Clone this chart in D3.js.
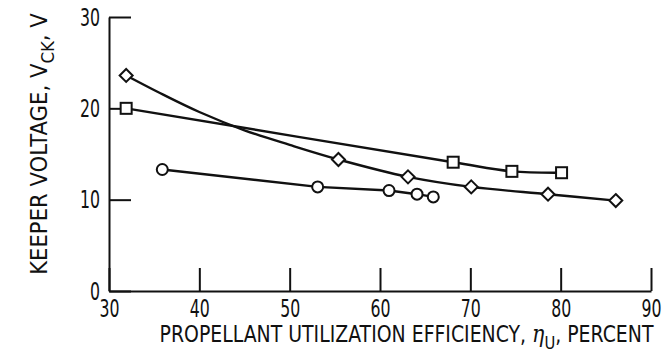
<!DOCTYPE html>
<html lang="en">
<head>
  <meta charset="UTF-8">
  <title>Keeper voltage vs propellant utilization</title>
  <script src="https://d3js.org/d3.v7.min.js"></script>
  <style>
    html, body { margin: 0; padding: 0; background: #fff; }
    svg { display: block; }
    text {
      font-family: "DejaVu Sans", sans-serif;
      fill: #111;
    }
    .axis path, .axis line { stroke: #111; stroke-width: 2px; }
    .axis text { font-size: 25px; }
    .title { font-size: 23px; }
    .curve { fill: none; stroke: #111; stroke-width: 2.4px; }
    .mark { fill: #fff; stroke: #111; stroke-width: 2px; }
  </style>
</head>
<body>
<svg id="chart" width="662" height="364"></svg>
<script>
  // values
  const squareX = [31.9, 68.1, 74.6, 80.1];
  const squareY = [20.0, 14.1, 13.1, 12.95];

  const diamondX = [31.9, 55.4, 63.1, 70.1, 78.6, 86.1];
  const diamondY = [23.6, 14.4, 12.5, 11.4, 10.6, 9.9];
  // faired curve between the first two diamonds, as drawn
  const diamondFairX = [36, 40, 45, 50];
  const diamondFairY = [21.5, 19.6, 17.6, 16.0];

  const circleX = [35.9, 53.1, 61.0, 64.1, 65.9];
  const circleY = [13.3, 11.4, 11.0, 10.6, 10.3];

  const xTicks = [30, 40, 50, 60, 70, 80, 90];
  const yTicks = [0, 10, 20, 30];

  const svg = d3.select("#chart");
  const margin = { top: 17, right: 11, bottom: 73, left: 109 };
  const width = 662 - margin.left - margin.right;
  const height = 364 - margin.top - margin.bottom;
  const g = svg.append("g").attr("transform", `translate(${margin.left},${margin.top})`);

  const x = d3.scaleLinear().domain([30, 90]).range([0, width]);
  const y = d3.scaleLinear().domain([0, 30]).range([height, 0]);

  const zip = (xs, ys) => xs.map((v, i) => [v, ys[i]]);
  const squares = zip(squareX, squareY);
  const diamonds = zip(diamondX, diamondY);
  const circles = zip(circleX, circleY);
  const diamondCurve = diamonds.concat(zip(diamondFairX, diamondFairY)).sort((a, b) => a[0] - b[0]);

  const squeeze = 0.63; // narrow the wide DejaVu digits toward the condensed original

  // axes: ticks point into the plot
  const xAxis = g.append("g")
    .attr("class", "axis")
    .attr("transform", `translate(0,${height})`)
    .call(d3.axisBottom(x).tickValues(xTicks).tickSize(-23).tickSizeOuter(0).tickPadding(8));
  xAxis.selectAll("text").attr("transform", `scale(${squeeze},1)`);

  const yAxis = g.append("g")
    .attr("class", "axis")
    .call(d3.axisLeft(y).tickValues(yTicks).tickSize(-22).tickSizeOuter(0).tickPadding(9));
  yAxis.selectAll("text")
    .attr("x", -9 / squeeze)
    .attr("transform", `scale(${squeeze},1)`);

  g.selectAll(".axis text").attr("fill", "#111");

  const smooth = d3.line()
    .x(d => x(d[0]))
    .y(d => y(d[1]))
    .curve(d3.curveCatmullRom.alpha(0.5));
  const straight = d3.line()
    .x(d => x(d[0]))
    .y(d => y(d[1]));

  g.append("path").attr("class", "curve").attr("d", smooth(squares));
  g.append("path").attr("class", "curve").attr("d", smooth(diamondCurve));
  g.append("path").attr("class", "curve").attr("d", straight(circles));

  // markers
  g.selectAll(".sq").data(squares).enter()
    .append("rect")
    .attr("class", "mark")
    .attr("x", d => x(d[0]) - 5.5)
    .attr("y", d => y(d[1]) - 5.5)
    .attr("width", 11)
    .attr("height", 11);

  g.selectAll(".dia").data(diamonds).enter()
    .append("path")
    .attr("class", "mark")
    .attr("d", d => {
      const cx = x(d[0]), cy = y(d[1]), r = 6.5;
      return `M${cx},${cy - r}L${cx + r},${cy}L${cx},${cy + r}L${cx - r},${cy}Z`;
    });

  g.selectAll(".circ").data(circles).enter()
    .append("circle")
    .attr("class", "mark")
    .attr("cx", d => x(d[0]))
    .attr("cy", d => y(d[1]))
    .attr("r", 5.5);

  // axis titles, squeezed to the width they take in the original
  function fitTitle(sel, target) {
    const w = sel.node().getBBox().width;
    sel.attr("transform", (sel.attr("transform") || "") + ` scale(${target / w},1)`);
  }

  const xt = svg.append("g").attr("transform", "translate(406.5,342)")
    .append("text")
    .attr("class", "title")
    .attr("text-anchor", "middle");
  xt.append("tspan").text("PROPELLANT UTILIZATION EFFICIENCY,  ");
  xt.append("tspan").text("\u03b7").attr("font-style", "italic").attr("font-family", "DejaVu Serif").attr("font-size", 25);
  xt.append("tspan").text("U").attr("dy", 7).attr("font-size", 18);
  xt.append("tspan").text(",").attr("dy", -7);
  xt.append("tspan").text("  PERCENT");
  fitTitle(xt, 495);

  const yt = svg.append("g").attr("transform", "translate(47,144) rotate(-90)")
    .append("text")
    .attr("class", "title")
    .attr("text-anchor", "middle");
  yt.append("tspan").text("KEEPER VOLTAGE,  V");
  yt.append("tspan").text("CK").attr("dy", 7).attr("font-size", 18);
  yt.append("tspan").text(",").attr("dy", -7);
  yt.append("tspan").text("  V");
  fitTitle(yt, 262);
</script>
</body>
</html>
